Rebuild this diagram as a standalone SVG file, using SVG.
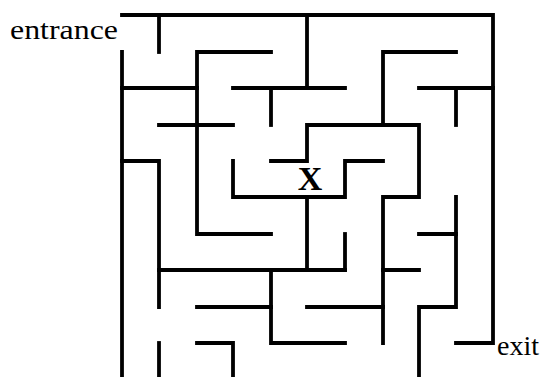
<svg xmlns="http://www.w3.org/2000/svg" width="546" height="377" viewBox="0 0 546 377">
<style>
.w{fill:none;stroke:#000;stroke-width:3.8;stroke-linecap:square;stroke-linejoin:miter}
.t{font-family:"Liberation Serif","Times New Roman",serif;fill:#000}
</style>
<rect width="546" height="377" fill="#fff"/>
<g id="walls">
<polyline class="w" points="122,15 493,15 493,343 456,343"/>
<polyline class="w" points="159,15 159,52"/>
<polyline class="w" points="122,52 122,380"/>
<polyline class="w" points="122,88 197,88"/>
<polyline class="w" points="271,52 197,52 197,234 271,234"/>
<polyline class="w" points="233,88 345,88"/>
<polyline class="w" points="307,15 307,88"/>
<polyline class="w" points="271,88 271,125"/>
<polyline class="w" points="159,125 233,125"/>
<polyline class="w" points="456,52 383,52 383,125"/>
<polyline class="w" points="271,161 307,161 307,125 419,125 419,197 383,197 383,343"/>
<polyline class="w" points="383,161 345,161 345,197 233,197 233,161"/>
<polyline class="w" points="122,161 159,161 159,307"/>
<polyline class="w" points="159,270 345,270"/>
<polyline class="w" points="307,197 307,270"/>
<polyline class="w" points="345,234 345,270"/>
<polyline class="w" points="271,270 271,343 345,343"/>
<polyline class="w" points="197,307 271,307"/>
<polyline class="w" points="197,343 233,343 233,380"/>
<polyline class="w" points="159,343 159,380"/>
<polyline class="w" points="307,307 383,307"/>
<polyline class="w" points="383,270 419,270"/>
<polyline class="w" points="419,234 456,234"/>
<polyline class="w" points="456,197 456,307 419,307 419,380"/>
<polyline class="w" points="419,88 493,88"/>
<polyline class="w" points="456,88 456,125"/>
</g>
<g id="labels">
<text id="entrance" class="t" x="10" y="39" font-size="28" textLength="108" lengthAdjust="spacingAndGlyphs">entrance</text>
<text id="exit" class="t" x="497" y="355" font-size="28">exit</text>
<text id="x" class="t" x="310" y="190" font-size="34" font-weight="bold" text-anchor="middle">X</text>
</g>
</svg>
